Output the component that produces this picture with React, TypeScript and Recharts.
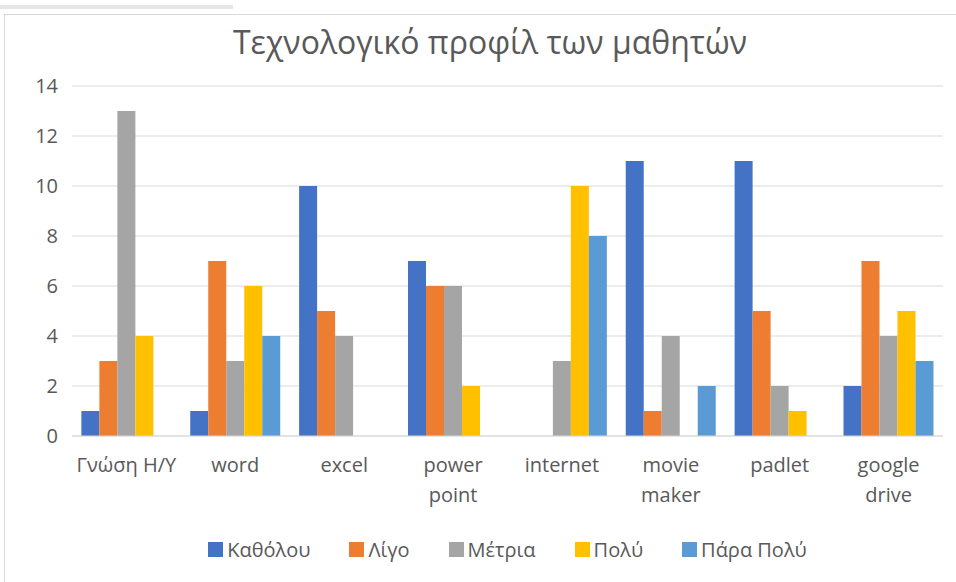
import { BarChart, Bar, XAxis, YAxis, CartesianGrid, Legend } from "recharts";

const categories = [
  "Γνώση Η/Υ",
  "word",
  "excel",
  "power\npoint",
  "internet",
  "movie\nmaker",
  "padlet",
  "google\ndrive",
];

const seriesNames = ["Καθόλου", "Λίγο", "Μέτρια", "Πολύ", "Πάρα Πολύ"];
const seriesColors = ["#4472C4", "#ED7D31", "#A5A5A5", "#FFC000", "#5B9BD5"];

const katholou = [1, 1, 10, 7, 0, 11, 11, 2];
const ligo = [3, 7, 5, 6, 0, 1, 5, 7];
const metria = [13, 3, 4, 6, 3, 4, 2, 4];
const poly = [4, 6, 0, 2, 10, 0, 1, 5];
const paraPoly = [0, 4, 0, 0, 8, 2, 0, 3];

const yTicks = [0, 2, 4, 6, 8, 10, 12, 14];

const seriesValues = [katholou, ligo, metria, poly, paraPoly];

const data = categories.map((c, i) => {
  const row: Record<string, string | number> = { category: c };
  seriesNames.forEach((s, j) => {
    row[s] = seriesValues[j][i];
  });
  return row;
});

const FONT = "'Open Sans', 'Noto Sans', sans-serif";
const TEXT = "#595959";

function CategoryTick(props: any) {
  const { x, y, payload } = props;
  const lines = String(payload.value).split("\n");
  return (
    <text x={x} y={y} textAnchor="middle" fill={TEXT} fontSize={20} fontFamily={FONT}>
      {lines.map((l, i) => (
        <tspan key={i} x={x} y={y + 28 + i * 30}>
          {l}
        </tspan>
      ))}
    </text>
  );
}

function LegendContent() {
  return (
    <div
      style={{
        display: "flex",
        justifyContent: "center",
        gap: 39,
        fontFamily: FONT,
        fontSize: 20,
        color: TEXT,
      }}
    >
      {seriesNames.map((s, i) => (
        <div key={s} style={{ display: "flex", alignItems: "center" }}>
          <span
            style={{
              width: 15,
              height: 15,
              background: seriesColors[i],
              display: "inline-block",
              marginRight: 4,
            }}
          />
          <span>{s}</span>
        </div>
      ))}
    </div>
  );
}

export default function App() {
  return (
    <div
      style={{
        position: "fixed",
        left: 0,
        top: 0,
        width: 956,
        height: 582,
        background: "#fff",
        overflow: "hidden",
      }}
    >
      <div
        style={{
          position: "absolute",
          left: 0,
          top: 5,
          width: 233,
          height: 4,
          background: "#e4e6ea",
        }}
      />
      <div
        style={{
          position: "absolute",
          left: 4,
          top: 14,
          width: 960,
          height: 600,
          borderLeft: "1px solid #d9d9d9",
          borderTop: "1px solid #d9d9d9",
        }}
      />
      <div
        style={{
          position: "absolute",
          left: 490,
          top: 20,
          transform: "translateX(-50%)",
          whiteSpace: "nowrap",
          fontFamily: FONT,
          fontSize: 32,
          color: TEXT,
        }}
      >
        Τεχνολογικό προφίλ των μαθητών
      </div>
      <div style={{ position: "absolute", left: 0, top: 0 }}>
        <BarChart
          width={956}
          height={582}
          data={data}
          margin={{ top: 86, right: 13, left: 0, bottom: 116 }}
          barCategoryGap="8.6%"
          barGap={0}
        >
          <CartesianGrid vertical={false} stroke="#d9d9d9" />
          <XAxis
            dataKey="category"
            tickLine={false}
            axisLine={{ stroke: "#d9d9d9" }}
            tick={<CategoryTick />}
            interval={0}
          />
          <YAxis
            width={72}
            domain={[0, 14]}
            ticks={yTicks}
            axisLine={false}
            tickLine={false}
            tickMargin={8}
            tick={{ fill: TEXT, fontSize: 20, fontFamily: FONT }}
          />
          <Legend
            verticalAlign="middle"
            content={<LegendContent />}
            wrapperStyle={{ top: 536, left: 72, width: 871 }}
          />
          {seriesNames.map((s, i) => (
            <Bar key={s} dataKey={s} fill={seriesColors[i]} isAnimationActive={false} />
          ))}
        </BarChart>
      </div>
    </div>
  );
}
